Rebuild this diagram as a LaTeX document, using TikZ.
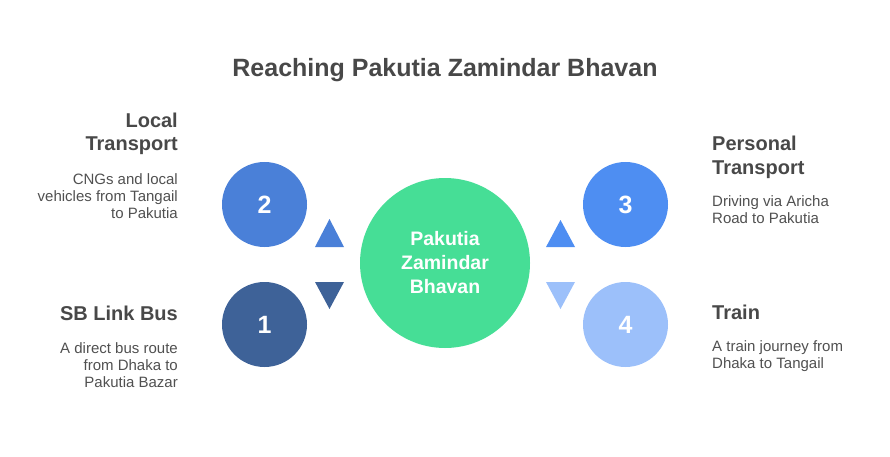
\documentclass[tikz,border=0pt]{standalone}
\usepackage{fontspec}
\setmainfont{Liberation Sans}
\definecolor{headc}{HTML}{484848}
\definecolor{descc}{HTML}{505050}
\definecolor{cone}{HTML}{3E6298}
\definecolor{ctwo}{HTML}{4A80D8}
\definecolor{cthree}{HTML}{4E8EF2}
\definecolor{cfour}{HTML}{9CC0FA}
\definecolor{cgreen}{HTML}{46DE96}
\begin{document}
\begin{tikzpicture}[x=1pt,y=-1pt,
  titlest/.style={font=\bfseries\fontsize{25}{30}\selectfont, text=headc, inner sep=0},
  head/.style={font=\bfseries\fontsize{20}{24}\selectfont, text=headc, inner sep=0},
  desc/.style={font=\fontsize{15}{17}\selectfont, text=descc, inner sep=0},
  num/.style={circle, minimum size=85pt, inner sep=0, text=white, font=\bfseries\fontsize{25}{30}\selectfont},
  hub/.style={circle, minimum size=170pt, inner sep=0, fill=cgreen, text=white, align=center, font=\bfseries\fontsize{19.5}{24}\selectfont}]
\useasboundingbox (0,0) rectangle (890,457);

\node[titlest, anchor=base] (title) at (445,77) {Reaching Pakutia Zamindar Bhavan};

\node[hub] (hubc) at (445,263) {Pakutia\\Zamindar\\Bhavan};

\node[num, fill=ctwo] (n2) at (264.5,204.5) {2};
\node[num, fill=cone] (n1) at (264.5,324.5) {1};
\node[num, fill=cthree] (n3) at (625.5,204.5) {3};
\node[num, fill=cfour] (n4) at (625.5,324.5) {4};

% triangles
\fill[ctwo] (329.5,219) -- (344,247) -- (315,247) -- cycle;
\fill[cone] (315,282) -- (344,282) -- (329.5,309) -- cycle;
\fill[cthree] (560.5,220) -- (575,247) -- (546,247) -- cycle;
\fill[cfour] (546,282) -- (575,282) -- (560.5,309) -- cycle;

% left texts
\node[head, anchor=base east] (h2a) at (178,128) {Local};
\node[head, anchor=base east] (h2b) at (178,150) {Transport};
\node[desc, anchor=base east] (d2a) at (178,184) {CNGs and local};
\node[desc, anchor=base east] (d2b) at (178,201) {vehicles from Tangail};
\node[desc, anchor=base east] (d2c) at (178,218) {to Pakutia};

\node[head, anchor=base east] (h1a) at (178,320) {SB Link Bus};
\node[desc, anchor=base east] (d1a) at (178,353) {A direct bus route};
\node[desc, anchor=base east] (d1b) at (178,370) {from Dhaka to};
\node[desc, anchor=base east] (d1c) at (178,387) {Pakutia Bazar};

% right texts
\node[head, anchor=base west] (h3a) at (712,151) {Personal};
\node[head, anchor=base west] (h3b) at (712,174) {Transport};
\node[desc, anchor=base west] (d3a) at (712,206) {Driving via Aricha};
\node[desc, anchor=base west] (d3b) at (712,223) {Road to Pakutia};

\node[head, anchor=base west] (h4a) at (712,319) {Train};
\node[desc, anchor=base west] (d4a) at (712,351) {A train journey from};
\node[desc, anchor=base west] (d4b) at (712,368) {Dhaka to Tangail};
\end{tikzpicture}
\end{document}
